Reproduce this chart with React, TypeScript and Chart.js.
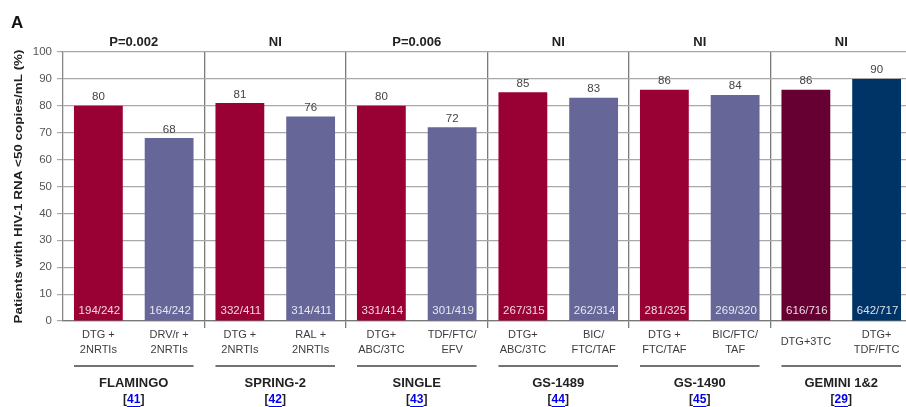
import React, { useEffect, useRef } from "react";
import { Chart, registerables } from "chart.js";

Chart.register(...registerables);

// Percentage of patients with HIV-1 RNA <50 copies/mL in each arm
const values = [80, 68, 81, 76, 80, 72, 85, 83, 86, 84, 86, 90];
const fractions = [
  "194/242", "164/242", "332/411", "314/411", "331/414", "301/419",
  "267/315", "262/314", "281/325", "269/320", "616/716", "642/717",
];
const categories: string[][] = [
  ["DTG +", "2NRTIs"], ["DRV/r +", "2NRTIs"],
  ["DTG +", "2NRTIs"], ["RAL +", "2NRTIs"],
  ["DTG+", "ABC/3TC"], ["TDF/FTC/", "EFV"],
  ["DTG+", "ABC/3TC"], ["BIC/", "FTC/TAF"],
  ["DTG +", "FTC/TAF"], ["BIC/FTC/", "TAF"],
  ["DTG+3TC"], ["DTG+", "TDF/FTC"],
];
const barColors = [
  "#990033", "#666699", "#990033", "#666699", "#990033", "#666699",
  "#990033", "#666699", "#990033", "#666699", "#660033", "#003366",
];
const studies = ["FLAMINGO", "SPRING-2", "SINGLE", "GS-1489", "GS-1490", "GEMINI 1&2"];
const references = ["41", "42", "43", "44", "45", "29"];
const pValues = ["P=0.002", "NI", "P=0.006", "NI", "NI", "NI"];
const yTicks = [0, 10, 20, 30, 40, 50, 60, 70, 80, 90, 100];

const FONT = '"Liberation Sans", Arial, sans-serif';
const W = 916;
const H = 407;

const annotations = {
  id: "annotations",
  afterDatasetsDraw(chart: any) {
    const { ctx, chartArea } = chart;
    const meta = chart.getDatasetMeta(0);
    ctx.save();

    // value above each bar and n/N at its foot
    meta.data.forEach((bar: any, i: number) => {
      ctx.textAlign = "center";
      ctx.textBaseline = "bottom";
      ctx.fillStyle = "#444";
      ctx.font = `11.5px ${FONT}`;
      ctx.fillText(String(values[i]), bar.x, bar.y - 3);

      ctx.textBaseline = "middle";
      ctx.fillStyle = "rgba(255,255,255,0.85)";
      ctx.font = `11.5px ${FONT}`;
      ctx.fillText(fractions[i], bar.x + 1, bar.base - 10);

      // arm labels below the axis
      ctx.fillStyle = "#3c3c3c";
      ctx.font = `11px ${FONT}`;
      const lines = categories[i];
      if (lines.length === 1) {
        ctx.fillText(lines[0], bar.x, chartArea.bottom + 21);
      } else {
        lines.forEach((ln, k) => ctx.fillText(ln, bar.x, chartArea.bottom + 14 + k * 15));
      }
    });

    // study groups: rule, name, reference, p-value
    studies.forEach((name, g) => {
      const a: any = meta.data[g * 2];
      const b: any = meta.data[g * 2 + 1];
      const cx = (a.x + b.x) / 2;

      ctx.strokeStyle = "#444";
      ctx.lineWidth = 1.5;
      ctx.beginPath();
      ctx.moveTo(a.x - a.width / 2, chartArea.bottom + 45);
      ctx.lineTo(b.x + b.width / 2, chartArea.bottom + 45);
      ctx.stroke();

      ctx.textAlign = "center";
      ctx.textBaseline = "middle";
      ctx.fillStyle = "#222";
      ctx.font = `bold 13px ${FONT}`;
      ctx.fillText(name, cx, chartArea.bottom + 62);

      // [ref] with a blue underlined number
      ctx.font = `bold 12px ${FONT}`;
      const ref = references[g];
      const wb = ctx.measureText("[").width;
      const wn = ctx.measureText(ref).width;
      const total = wb * 2 + wn;
      const x = cx - total / 2;
      const y = chartArea.bottom + 79;
      ctx.textAlign = "left";
      ctx.fillStyle = "#222";
      ctx.fillText("[", x, y);
      ctx.fillStyle = "#0000ee";
      ctx.fillText(ref, x + wb, y);
      ctx.fillRect(x + wb, y + 6, wn, 1);
      ctx.fillStyle = "#222";
      ctx.fillText("]", x + wb + wn, y);

      ctx.textAlign = "center";
      ctx.font = `bold 13px ${FONT}`;
      ctx.fillStyle = "#222";
      ctx.fillText(pValues[g], cx, chartArea.top - 10);
    });

    // panel letter
    ctx.textAlign = "left";
    ctx.textBaseline = "alphabetic";
    ctx.font = `bold 17px ${FONT}`;
    ctx.fillStyle = "#111";
    ctx.fillText("A", 11, 28);

    // y-axis title
    ctx.translate(19, (chartArea.top + chartArea.bottom) / 2);
    ctx.rotate(-Math.PI / 2);
    ctx.textAlign = "center";
    ctx.textBaseline = "middle";
    ctx.font = `bold 11px ${FONT}`;
    ctx.fillStyle = "#222";
    const title = "Patients with HIV-1 RNA <50 copies/mL (%)";
    const tw = ctx.measureText(title).width;
    ctx.scale(274 / tw, 1);
    ctx.fillText(title, 0, 0);

    ctx.restore();
  },
};

export default function App() {
  const ref = useRef<HTMLCanvasElement>(null);

  useEffect(() => {
    const canvas = ref.current!;
    const chart = new Chart(canvas, {
      type: "bar",
      data: {
        labels: categories.map((c) => c.join(" ")),
        datasets: [
          {
            data: values,
            backgroundColor: barColors,
            borderWidth: 0,
            barPercentage: 0.69,
            categoryPercentage: 1,
          },
        ],
      },
      options: {
        animation: false,
        responsive: false,
        devicePixelRatio: 1,
        layout: { padding: { top: 52, right: 4, bottom: 0, left: 0 } },
        plugins: { legend: { display: false }, tooltip: { enabled: false } },
        scales: {
          x: {
            type: "category",
            offset: true,
            ticks: { display: false },
            grid: {
              offset: true,
              drawOnChartArea: true,
              tickLength: 7,
              lineWidth: 1.3,
              color: (c: any) =>
                c.index > 0 && c.index < values.length && c.index % 2 === 0 ? "#7a7a7a" : "rgba(0,0,0,0)",
            },
            border: { display: true, color: "#777", width: 1.3 },
            afterFit: (s: any) => {
              s.height = 86;
            },
          },
          y: {
            min: 0,
            max: 100,
            afterBuildTicks: (s: any) => {
              s.ticks = yTicks.map((v) => ({ value: v }));
            },
            ticks: {
              font: { family: FONT, size: 11.5 },
              color: "#555",
              padding: 5,
            },
            grid: { color: "#a8a8a8", lineWidth: 1.2, tickLength: 6 },
            border: { display: true, color: "#888", width: 1.3 },
            afterFit: (s: any) => {
              s.width = 63;
            },
          },
        },
      },
      plugins: [annotations],
    });
    return () => chart.destroy();
  }, []);

  return (
    <div
      style={{
        position: "fixed",
        left: 0,
        top: 0,
        width: 906,
        height: 407,
        overflow: "hidden",
        background: "#fff",
      }}
    >
      <canvas ref={ref} width={W} height={H} style={{ display: "block", width: W, height: H }} />
    </div>
  );
}
